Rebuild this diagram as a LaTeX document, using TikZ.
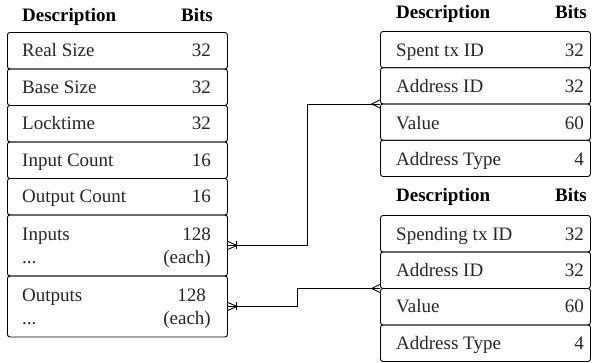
\documentclass[tikz,border=0pt]{standalone}
\usepackage{fontspec}
\setmainfont{Liberation Serif}
\usetikzlibrary{fit}
\tikzset{
  rowbox/.style={draw, line width=0.9pt, rounded corners=2.5pt, inner sep=0pt},
  lbl/.style={inner sep=0pt, text=black!85},
  hdr/.style={inner sep=0pt, font=\fontsize{19}{23}\selectfont\bfseries},
  conn/.style={line width=0.9pt},
}
\newcommand\mkrow[5]{\node[rowbox, minimum width=#4, minimum height=#5, anchor=north west] (#1) at (#2,#3) {};}
\newcommand\mklbl[5]{%
  \node[lbl, anchor=base west] (#1-l) at (#2,#4) {#5};}
\newcommand\mkval[4]{%
  \node[lbl, anchor=base east] (#1-v) at (#2,#3) {#4};}
\begin{document}
\begin{tikzpicture}[x=1pt,y=-1pt, font=\fontsize{19}{23}\selectfont]
\useasboundingbox (0,0) rectangle (597,362);

% ---------- left table ----------
\node[hdr, anchor=base west] (lh-d) at (22,21.7) {Description};
\node[hdr, anchor=base east] (lh-b) at (213,21.7) {Bits};
\mkrow{lr1}{7}{32}{220}{36.5}
\mkrow{lr2}{7}{68.5}{220}{36.5}
\mkrow{lr3}{7}{105}{220}{36.5}
\mkrow{lr4}{7}{141.5}{220}{36.5}
\mkrow{lr5}{7}{178}{220}{36.5}
\mkrow{lr6}{7}{214.5}{220}{61}
\mkrow{lr7}{7}{275.5}{220}{61}
\mklbl{lr1}{22}{}{56.9}{Real Size}      \mkval{lr1}{211}{56.9}{32}
\mklbl{lr2}{22}{}{93.4}{Base Size}      \mkval{lr2}{211}{93.4}{32}
\mklbl{lr3}{22}{}{129.9}{Locktime}      \mkval{lr3}{211}{129.9}{32}
\mklbl{lr4}{22}{}{166.4}{Input Count}   \mkval{lr4}{211}{166.4}{16}
\mklbl{lr5}{22}{}{202.9}{Output Count}  \mkval{lr5}{211}{202.9}{16}
\mklbl{lr6}{22}{}{240}{Inputs}          \mkval{lr6}{211}{240}{128}
\mklbl{lr6b}{22}{}{263.5}{...}          \mkval{lr6b}{211}{263.5}{(each)}
\mklbl{lr7}{22}{}{301}{Outputs}         \mkval{lr7}{206}{301}{128}
\mklbl{lr7b}{22}{}{324.5}{...}          \mkval{lr7b}{211}{324.5}{(each)}

% ---------- right top table ----------
\node[hdr, anchor=base west] (th-d) at (396,18) {Description};
\node[hdr, anchor=base east] (th-b) at (587,18) {Bits};
\mkrow{tr1}{380}{31}{210}{36.25}
\mkrow{tr2}{380}{67.25}{210}{36.25}
\mkrow{tr3}{380}{103.5}{210}{36.25}
\mkrow{tr4}{380}{139.75}{210}{36.25}
\mklbl{tr1}{396}{}{56.5}{Spent tx ID}    \mkval{tr1}{584}{56.5}{32}
\mklbl{tr2}{396}{}{92.8}{Address ID}     \mkval{tr2}{584}{92.8}{32}
\mklbl{tr3}{396}{}{129}{Value}           \mkval{tr3}{584}{129}{60}
\mklbl{tr4}{396}{}{165.3}{Address Type}  \mkval{tr4}{584}{165.3}{4}
\node[fit=(tr1)(tr4), inner sep=0pt] (spent) {};

% ---------- right bottom table ----------
\node[hdr, anchor=base west] (bh-d) at (396,201.7) {Description};
\node[hdr, anchor=base east] (bh-b) at (587,201.7) {Bits};
\mkrow{br1}{380}{215}{210}{36.5}
\mkrow{br2}{380}{251.5}{210}{36.5}
\mkrow{br3}{380}{288}{210}{36.5}
\mkrow{br4}{380}{324.5}{210}{36.5}
\mklbl{br1}{396}{}{240}{Spending tx ID}  \mkval{br1}{584}{240}{32}
\mklbl{br2}{396}{}{276.3}{Address ID}    \mkval{br2}{584}{276.3}{32}
\mklbl{br3}{396}{}{312.8}{Value}         \mkval{br3}{584}{312.8}{60}
\mklbl{br4}{396}{}{349.3}{Address Type}  \mkval{br4}{584}{349.3}{4}
\node[fit=(br1)(br4), inner sep=0pt] (spending) {};

% ---------- connectors ----------
\draw[conn] (lr6.east) -- ++(80,0) |- (spent.west);
\draw[conn] (lr7.east) -- ++(70,0) |- (spending.west);

% one-or-many markers at the left end
\foreach \r in {lr6,lr7}{
  \draw[conn] ([yshift=4pt]\r.east) -- ([xshift=9pt]\r.east) -- ([yshift=-4pt]\r.east);
  \draw[conn] ([xshift=9pt,yshift=4pt]\r.east) -- ([xshift=9pt,yshift=-4pt]\r.east);
}
% many markers at the right end
\foreach \t in {spent,spending}{
  \draw[conn] ([yshift=4pt]\t.west) -- ([xshift=-8pt]\t.west) -- ([yshift=-4pt]\t.west);
}
\end{tikzpicture}
\end{document}
